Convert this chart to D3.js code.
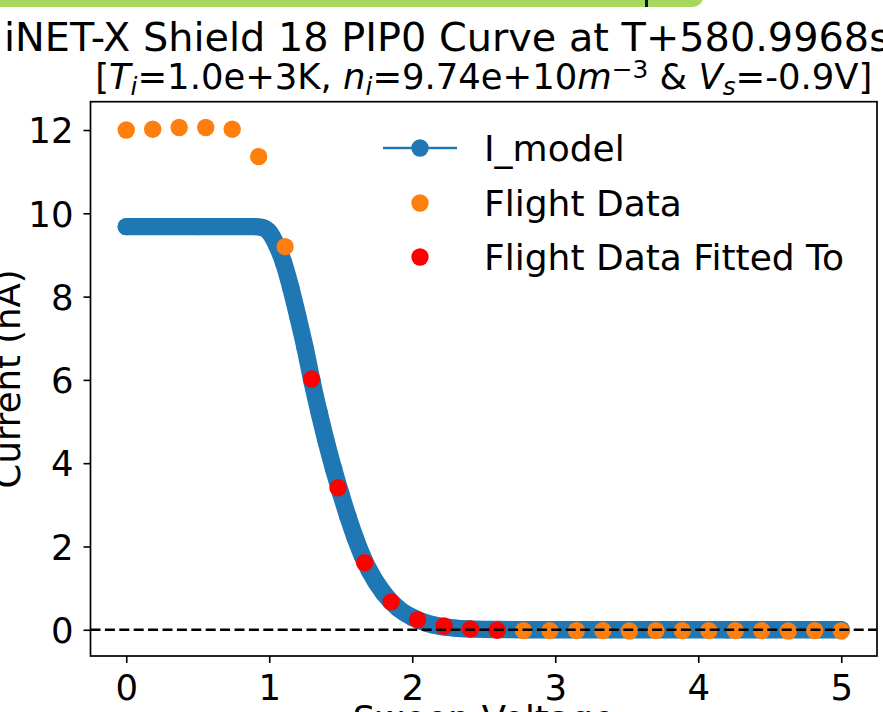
<!DOCTYPE html>
<html><head><meta charset="utf-8">
<script src="https://cdn.jsdelivr.net/npm/d3@7/dist/d3.min.js"></script>
<style>
body{margin:0;background:#fff;}
svg{display:block;font-family:"DejaVu Sans",sans-serif;}
</style>
</head><body>
<svg id="chart" width="883" height="712"></svg>
<script>
// ---- data ----
const modelV = [0, 0.5, 0.9, 0.95, 1.0, 1.05, 1.1, 1.15, 1.2, 1.25, 1.3, 1.35, 1.4, 1.45, 1.5, 1.55, 1.6, 1.65, 1.7, 1.8, 1.9, 2.0, 2.1, 2.2, 2.3, 2.4, 2.6, 2.8, 3.5, 4.2, 5.0];
const modelI = [9.68, 9.68, 9.68, 9.66, 9.55, 9.25, 8.82, 8.22, 7.52, 6.78, 5.95, 5.2, 4.5, 3.86, 3.27, 2.72, 2.22, 1.78, 1.42, 0.88, 0.52, 0.3, 0.16, 0.08, 0.04, 0.02, 0.005, 0, 0, 0, 0];

const flightV = [0, 0.185, 0.370, 0.556, 0.741, 0.926, 1.111, 2.778, 2.963, 3.148, 3.333, 3.519, 3.704, 3.889, 4.074, 4.259, 4.444, 4.630, 4.815, 5.0];
const flightI = [12.00, 12.02, 12.06, 12.06, 12.02, 11.36, 9.20, -0.02, -0.02, -0.02, -0.02, -0.03, -0.02, -0.02, -0.02, -0.02, -0.02, -0.03, -0.02, -0.03];

const fitV = [1.296, 1.481, 1.667, 1.852, 2.037, 2.222, 2.407, 2.593];
const fitI = [6.02, 3.41, 1.61, 0.67, 0.24, 0.09, 0.02, -0.01];

const xTicks = [0, 1, 2, 3, 4, 5];
const yTicks = [0, 2, 4, 6, 8, 10, 12];
const legendLabels = ["I_model", "Flight Data", "Flight Data Fitted To"];
const seriesColors = ["#1f77b4", "#ff7f0e", "#ff0000"];

const titleText = "iNET-X Shield 18 PIP0 Curve at T+580.9968s";
const xLabel = "Sweep Voltage";
const yLabel = "Current (nA)";

// ---- layout ----
const svg = d3.select("#chart");
const L = 90.5, R = 877, T = 101.7, B = 656;
const x = d3.scaleLinear().domain([-0.25, 5.25]).range([L, R]);
const y = d3.scaleLinear().domain([-0.63, 12.68]).range([B, T]);
const FS = 35.5, MR = 8.7;

// green bar artifact at top
svg.append("rect").attr("x", -20).attr("y", -20).attr("width", 723).attr("height", 27)
  .attr("rx", 10).attr("fill", "#a7d85e");
svg.append("rect").attr("x", 645).attr("y", 0).attr("width", 3).attr("height", 7).attr("fill", "#111");

// clip for data
svg.append("clipPath").attr("id", "clip").append("rect")
  .attr("x", L).attr("y", T).attr("width", R - L).attr("height", B - T);
const plot = svg.append("g").attr("clip-path", "url(#clip)");

// model: dense markers -> thick band
const modelPts = modelV.map((v, i) => [v, modelI[i]]);
const line = d3.line().x(d => x(d[0])).y(d => y(d[1])).curve(d3.curveMonotoneX);
plot.append("path").attr("d", line(modelPts)).attr("fill", "none")
  .attr("stroke", seriesColors[0]).attr("stroke-width", MR * 2)
  .attr("stroke-linecap", "round").attr("stroke-linejoin", "round");
plot.selectAll("circle.m").data(modelPts).join("circle").attr("class", "m")
  .attr("cx", d => x(d[0])).attr("cy", d => y(d[1])).attr("r", MR).attr("fill", seriesColors[0]);

// flight data
plot.selectAll("circle.f").data(flightV.map((v, i) => [v, flightI[i]])).join("circle").attr("class", "f")
  .attr("cx", d => x(d[0])).attr("cy", d => y(d[1])).attr("r", MR).attr("fill", seriesColors[1]);
// fitted
plot.selectAll("circle.r").data(fitV.map((v, i) => [v, fitI[i]])).join("circle").attr("class", "r")
  .attr("cx", d => x(d[0])).attr("cy", d => y(d[1])).attr("r", MR).attr("fill", seriesColors[2]);

// dashed zero line
svg.append("line").attr("x1", L).attr("x2", R).attr("y1", y(0)).attr("y2", y(0))
  .attr("stroke", "#000").attr("stroke-width", 2.7).attr("stroke-dasharray", "10,4.4");

// axes
const xAxis = d3.axisBottom(x).tickValues(xTicks).tickFormat(d3.format("d")).tickSize(7).tickPadding(9);
const yAxis = d3.axisLeft(y).tickValues(yTicks).tickFormat(d3.format("d")).tickSize(7).tickPadding(10);
const gx = svg.append("g").attr("transform", `translate(0,${B})`).call(xAxis);
const gy = svg.append("g").attr("transform", `translate(${L},0)`).call(yAxis);
[gx, gy].forEach(g => {
  g.select(".domain").remove();
  g.selectAll(".tick line").attr("stroke", "#000").attr("stroke-width", 1.6);
  g.selectAll(".tick text").attr("font-size", FS).attr("font-family", "DejaVu Sans").attr("fill", "#000");
});
gx.selectAll(".tick text").attr("dy", null).attr("y", 44);
gy.selectAll(".tick text").attr("dy", "0.36em");
// frame
svg.append("rect").attr("x", L).attr("y", T).attr("width", R - L).attr("height", B - T)
  .attr("fill", "none").attr("stroke", "#000").attr("stroke-width", 1.7);

// axis labels
svg.append("text").attr("x", (L + R) / 2).attr("y", 731).attr("text-anchor", "middle")
  .attr("font-size", FS).text(xLabel);
svg.append("text").attr("transform", `translate(20,${(T + B) / 2}) rotate(-90)`)
  .attr("text-anchor", "middle").attr("font-size", FS).text(yLabel);

// title
svg.append("text").attr("x", 4).attr("y", 51).attr("font-size", 39.8).text(titleText);
const sub = svg.append("text").attr("x", (L + R) / 2).attr("y", 89).attr("text-anchor", "middle").attr("font-size", 35.4);
const parts = [
  ["[", ""], ["T", "i"], ["i", "sub"], ["=1.0e+3K, ", ""], ["n", "i"], ["i", "sub"],
  ["=9.74e+10", ""], ["m", "i"], ["\u22123", "sup"], [" & ", ""], ["V", "i"], ["s", "sub"], ["=-0.9V]", ""]
];
parts.forEach(([t, k]) => {
  const ts = sub.append("tspan").text(t);
  if (k === "i") ts.attr("font-style", "italic");
  if (k === "sub") ts.attr("font-style", "italic").attr("font-size", 24.8).attr("baseline-shift", "-25%");
  if (k === "sup") ts.attr("font-size", 24.8).attr("baseline-shift", "45%");
});

// legend
const lg = svg.append("g");
const rowY = [148, 203, 257];
legendLabels.forEach((lab, i) => {
  if (i === 0) lg.append("line").attr("x1", 383).attr("x2", 457).attr("y1", rowY[i]).attr("y2", rowY[i])
    .attr("stroke", seriesColors[i]).attr("stroke-width", 2.7);
  lg.append("circle").attr("cx", 420).attr("cy", rowY[i]).attr("r", MR).attr("fill", seriesColors[i]);
  lg.append("text").attr("x", 484).attr("y", rowY[i]).attr("dy", "0.36em").attr("font-size", 36).text(lab);
});
</script>
</body></html>
